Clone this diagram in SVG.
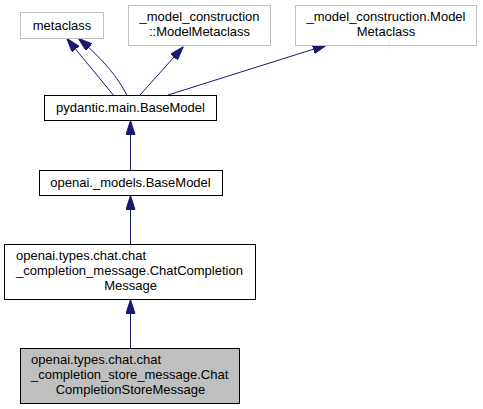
<svg xmlns="http://www.w3.org/2000/svg" width="483" height="409" viewBox="0 0 483 409">
<style>
.n rect{fill:#ffffff;stroke:#000000;stroke-width:1}
.g rect{fill:#ffffff;stroke:#bfbfbf;stroke-width:1}
.cur rect{fill:#bfbfbf;stroke:#000000;stroke-width:1}
text{font-family:"Liberation Sans",Arial,sans-serif;font-size:13px;fill:#000000}
.m{text-anchor:middle}
.s{text-anchor:start}
.e path{fill:none;stroke:#191970;stroke-width:1}
</style>
<defs>
<marker id="ah" markerUnits="userSpaceOnUse" markerWidth="14" markerHeight="10" refX="14" refY="4.5" orient="auto">
<path d="M0,0 L14,4.5 L0,9 z" fill="#191970" stroke="#191970" stroke-width="1"/>
</marker>
</defs>
<rect width="483" height="409" fill="#ffffff"/>
<g id="edges" class="e">
<path d="M113.3,95 L66.7,38.3" marker-end="url(#ah)"/>
<path d="M126.7,95 C119,79 103,59 78.3,38.3" marker-end="url(#ah)"/>
<path d="M140,95 L183.3,46.7" marker-end="url(#ah)"/>
<path d="M168,95 L326.7,45" marker-end="url(#ah)"/>
<path d="M130.5,170 L130.5,120.5" marker-end="url(#ah)"/>
<path d="M130.5,244 L130.5,195.5" marker-end="url(#ah)"/>
<path d="M130.5,348 L130.5,299.5" marker-end="url(#ah)"/>
</g>
<g id="node_metaclass" class="g">
<rect x="20.5" y="12.5" width="83" height="26"/>
<text class="m" x="62" y="30">metaclass</text>
</g>
<g id="node_mc1" class="g">
<rect x="128.5" y="5.5" width="142" height="40"/>
<text class="m" x="199.5" y="21">_model_construction</text>
<text class="m" x="199.5" y="36">::ModelMetaclass</text>
</g>
<g id="node_mc2" class="g">
<rect x="295.5" y="5.5" width="181" height="40"/>
<text class="m" x="386" y="21">_model_construction.Model</text>
<text class="m" x="386" y="36">Metaclass</text>
</g>
<g id="node_pydantic" class="n">
<rect x="44.5" y="95.5" width="172" height="25"/>
<text class="m" x="130.5" y="112">pydantic.main.BaseModel</text>
</g>
<g id="node_models" class="n">
<rect x="39.5" y="170.5" width="183" height="25"/>
<text class="m" x="130.5" y="187">openai._models.BaseModel</text>
</g>
<g id="node_ccm" class="n">
<rect x="4.5" y="244.5" width="251" height="55"/>
<text class="s" x="16" y="260">openai.types.chat.chat</text>
<text class="s" x="16" y="275">_completion_message.ChatCompletion</text>
<text class="m" x="130.5" y="290">Message</text>
</g>
<g id="node_store" class="cur">
<rect x="20.5" y="348.5" width="219" height="55"/>
<text class="s" x="31" y="364">openai.types.chat.chat</text>
<text class="s" x="31" y="379">_completion_store_message.Chat</text>
<text class="m" x="130.5" y="394">CompletionStoreMessage</text>
</g>
</svg>
